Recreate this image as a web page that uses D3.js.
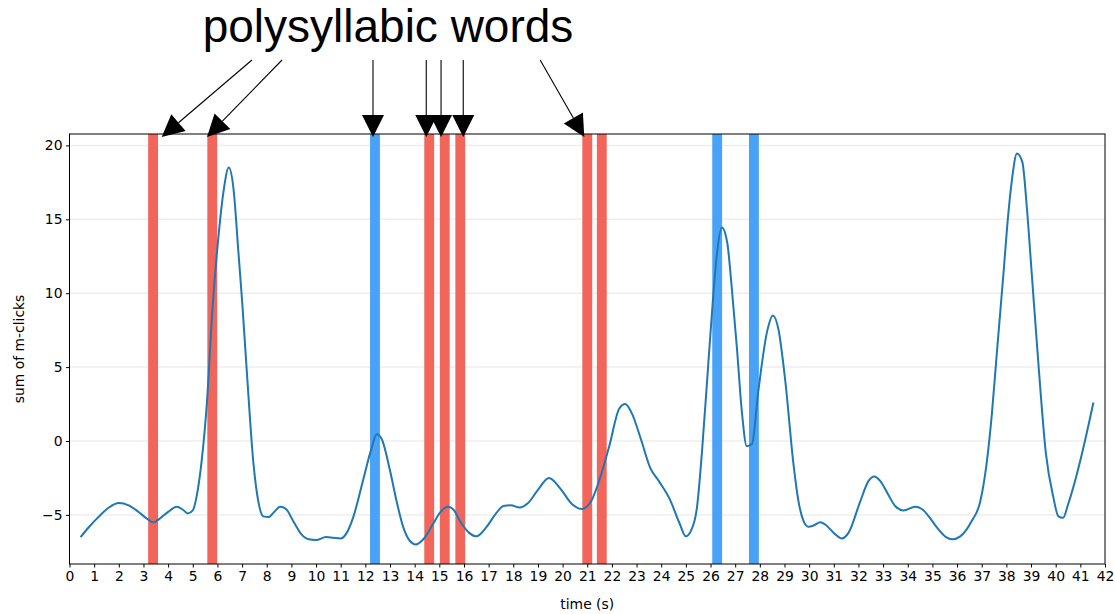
<!DOCTYPE html>
<html>
<head>
<meta charset="utf-8">
<script src="https://cdn.jsdelivr.net/npm/d3@7"></script>
<style>
  body { margin: 0; background: #fff; }
  text { font-family: "DejaVu Sans", sans-serif; }
</style>
</head>
<body>
<div id="chart"></div>
<script>
// time samples (s) and smoothed sum of m-clicks
const times = [0.45, 0.8, 1.2, 1.6, 2.0, 2.4, 2.8, 3.1, 3.4, 3.7, 4.0, 4.35, 4.6, 4.8, 5.0, 5.15, 5.35, 5.57, 5.8, 6.04,
  6.24, 6.46, 6.65, 6.85, 7.0, 7.2, 7.46, 7.66, 7.86, 8.07, 8.3, 8.55, 8.78, 9.1, 9.4, 9.7, 10.0, 10.4, 10.7, 11.0,
  11.25, 11.5, 11.9, 12.25, 12.46, 12.67, 13.0, 13.27, 13.55, 13.8, 14.05, 14.35, 14.75, 15.05, 15.35, 15.6, 15.85, 16.2, 16.5, 16.9,
  17.3, 17.6, 17.9, 18.25, 18.6, 19.0, 19.45, 19.9, 20.4, 20.78, 21.15, 21.5, 21.9, 22.3, 22.54, 22.8, 23.2, 23.55, 23.9, 24.35,
  24.75, 25.0, 25.2, 25.45, 25.65, 25.9, 26.1, 26.25, 26.46, 26.68, 26.86, 27.07, 27.27, 27.47, 27.68, 27.94, 28.3, 28.53, 28.75, 29.03,
  29.36, 29.57, 29.77, 29.97, 30.2, 30.45, 30.65, 31.05, 31.33, 31.6, 32.07, 32.41, 32.65, 32.88, 33.2, 33.49, 33.83, 34.3, 34.57, 34.9,
  35.18, 35.55, 35.8, 36.13, 36.6, 36.94, 37.2, 37.41, 37.61, 37.88, 38.08, 38.22, 38.43, 38.65, 38.83, 39.03, 39.3, 39.6, 39.91, 40.11,
  40.3, 40.5, 40.85, 41.2, 41.53];
const clicks = [-6.5, -5.8, -5.1, -4.5, -4.2, -4.35, -4.8, -5.2, -5.5, -5.2, -4.8, -4.45, -4.65, -4.9, -4.7, -3.8, -1.5, 2.5, 9.0, 13.8,
  16.8, 18.5, 17.1, 12.8, 9.5, 4.5, -1.5, -4.1, -5.1, -5.15, -4.8, -4.45, -4.6, -5.5, -6.3, -6.65, -6.7, -6.5, -6.55, -6.6,
  -6.2, -5.2, -2.7, -0.5, 0.45, 0.1, -2.0, -4.1, -5.9, -6.75, -7.0, -6.65, -5.6, -4.8, -4.45, -4.7, -5.45, -6.2, -6.45, -5.85,
  -4.9, -4.4, -4.35, -4.5, -4.2, -3.3, -2.5, -3.2, -4.3, -4.6, -4.1, -2.6, -0.3, 2.2, 2.5, 1.9, 0.0, -1.8, -2.7, -3.95,
  -5.6, -6.45, -6.1, -4.5, -0.8, 5.0, 9.6, 12.5, 14.45, 13.4, 10.4, 6.3, 2.0, -0.35, -0.2, 3.4, 7.45, 8.5, 7.6, 4.1,
  -1.5, -4.1, -5.4, -5.8, -5.7, -5.5, -5.65, -6.3, -6.6, -6.2, -4.1, -2.7, -2.4, -2.7, -3.6, -4.4, -4.7, -4.45, -4.6, -5.2,
  -5.85, -6.5, -6.65, -6.45, -5.4, -4.1, -1.5, 1.8, 5.9, 11.3, 15.4, 17.6, 19.45, 18.85, 15.8, 11.3, 5.2, -0.8, -3.85, -5.1,
  -5.2, -4.3, -2.3, 0.1, 2.6];

// word spans (start time, s); every span is 0.4 s wide
const redStarts = [3.19, 5.59, 14.39, 15.02, 15.65, 20.8, 21.39];
const blueStarts = [12.19, 26.07, 27.56];
const spanWidth = 0.4;

// annotation arrows: tail and tip positions on the time axis
const arrowTails = [7.4, 8.62, 12.31, 14.47, 15.07, 15.97, 19.09];
const arrowTips = [3.74, 5.58, 12.31, 14.47, 15.07, 15.97, 20.88];
const titleText = "polysyllabic words";

const xTicks = d3.range(0, 43);
const yTicks = [-5, 0, 5, 10, 15, 20];

const width = 1115, height = 614;
const margin = { top: 134, right: 10, bottom: 50, left: 69.5 };

const svg = d3.select("#chart").append("svg")
  .attr("width", width)
  .attr("height", height);

const data = times.map((t, i) => ({ t: t, v: clicks[i] }));

const lo = d3.min(clicks), hi = d3.max(clicks), pad = (hi - lo) * 0.05;

const x = d3.scaleLinear().domain([0, 42]).range([margin.left, width - margin.right]);
const y = d3.scaleLinear().domain([lo - pad, hi + pad]).range([height - margin.bottom, margin.top]);

// grid
svg.append("g").selectAll("line").data(yTicks).join("line")
  .attr("x1", x(0)).attr("x2", x(42))
  .attr("y1", d => y(d)).attr("y2", d => y(d))
  .attr("stroke", "#b0b0b0").attr("stroke-opacity", 0.22).attr("stroke-width", 1.5);

// spans
svg.append("g").selectAll("rect").data(redStarts).join("rect")
  .attr("x", d => x(d)).attr("width", d => x(d + spanWidth) - x(d))
  .attr("y", y.range()[1]).attr("height", y.range()[0] - y.range()[1])
  .attr("fill", "#f2655a");
svg.append("g").selectAll("rect").data(blueStarts).join("rect")
  .attr("x", d => x(d)).attr("width", d => x(d + spanWidth) - x(d))
  .attr("y", y.range()[1]).attr("height", y.range()[0] - y.range()[1])
  .attr("fill", "#4aa2f7");

// the curve
const line = d3.line()
  .x(d => x(d.t))
  .y(d => y(d.v))
  .curve(d3.curveMonotoneX);

svg.append("path")
  .datum(data)
  .attr("fill", "none")
  .attr("stroke", "#1f77b4")
  .attr("stroke-width", 2)
  .attr("d", line);

// axes
svg.append("g")
  .attr("transform", `translate(0, ${y.range()[0]})`)
  .call(d3.axisBottom(x).tickValues(xTicks).tickFormat(d3.format("d")).tickSizeOuter(0).tickSize(3.5).tickPadding(3.5));
svg.append("g")
  .attr("transform", `translate(${x(0)}, 0)`)
  .call(d3.axisLeft(y).tickValues(yTicks).tickSizeOuter(0).tickSize(3.5).tickPadding(3.5));
svg.selectAll(".tick text").attr("font-size", 13.9).attr("font-family", "DejaVu Sans").attr("fill", "#000");
svg.selectAll(".domain").remove();

// frame
svg.append("rect")
  .attr("x", x(0)).attr("y", y.range()[1])
  .attr("width", x(42) - x(0)).attr("height", y.range()[0] - y.range()[1])
  .attr("fill", "none").attr("stroke", "#000").attr("stroke-width", 1);

// axis labels
svg.append("text")
  .attr("x", (x(0) + x(42)) / 2).attr("y", 609)
  .attr("text-anchor", "middle").attr("font-size", 13.9)
  .text("time (s)");
svg.append("text")
  .attr("transform", `translate(24, ${(y.range()[0] + y.range()[1]) / 2}) rotate(-90)`)
  .attr("text-anchor", "middle").attr("font-size", 13.9)
  .text("sum of m-clicks");

// annotation
svg.append("text")
  .attr("x", 388).attr("y", 42)
  .attr("text-anchor", "middle")
  .style("font-family", "'Liberation Sans', Arial, sans-serif")
  .attr("font-size", 46)
  .text(titleText);

const tailY = 60, tipY = y.range()[1] + 3, headLen = 22, headW = 22;
const arrows = svg.append("g");
arrowTails.forEach((tx, i) => {
  const x0 = x(tx), y0 = tailY, x1 = x(arrowTips[i]), y1 = tipY;
  const dx = x1 - x0, dy = y1 - y0, len = Math.hypot(dx, dy);
  const ux = dx / len, uy = dy / len;
  const bx = x1 - ux * headLen, by = y1 - uy * headLen;
  arrows.append("line")
    .attr("x1", x0).attr("y1", y0).attr("x2", bx).attr("y2", by)
    .attr("stroke", "#000").attr("stroke-width", 1.1);
  arrows.append("path")
    .attr("d", `M${x1},${y1}L${bx - uy * headW / 2},${by + ux * headW / 2}L${bx + uy * headW / 2},${by - ux * headW / 2}Z`)
    .attr("fill", "#000");
});
</script>
</body>
</html>
